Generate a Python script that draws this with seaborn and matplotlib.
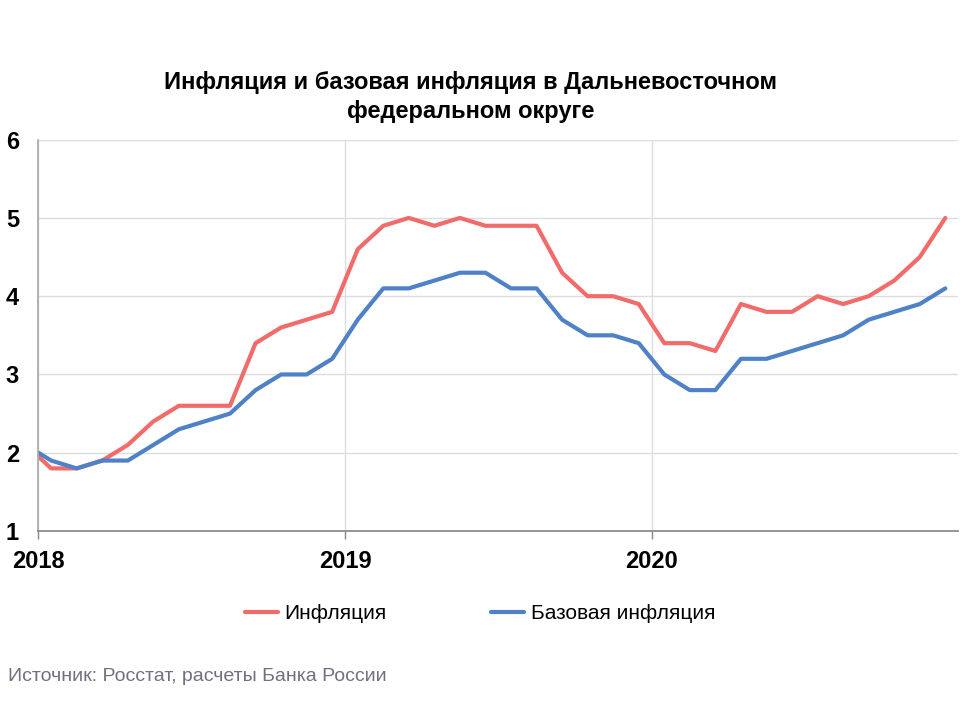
import pandas as pd
import matplotlib.pyplot as plt
import seaborn as sns

# month positions: 0 = start of 2018, points at mid-month
months = [0] + [k + 0.5 for k in range(36)]
inflation = [1.95, 1.8, 1.8, 1.9, 2.1, 2.4, 2.6, 2.6, 2.6, 3.4, 3.6, 3.7, 3.8,
             4.6, 4.9, 5.0, 4.9, 5.0, 4.9, 4.9, 4.9, 4.3, 4.0, 4.0, 3.9,
             3.4, 3.4, 3.3, 3.9, 3.8, 3.8, 4.0, 3.9, 4.0, 4.2, 4.5, 5.0]
core = [2.0, 1.9, 1.8, 1.9, 1.9, 2.1, 2.3, 2.4, 2.5, 2.8, 3.0, 3.0, 3.2,
        3.7, 4.1, 4.1, 4.2, 4.3, 4.3, 4.1, 4.1, 3.7, 3.5, 3.5, 3.4,
        3.0, 2.8, 2.8, 3.2, 3.2, 3.3, 3.4, 3.5, 3.7, 3.8, 3.9, 4.1]
year_ticks = [0, 12, 24]
year_labels = ['2018', '2019', '2020']

df = pd.concat([
    pd.DataFrame({'m': months, 'v': inflation, 's': 'Инфляция'}),
    pd.DataFrame({'m': months, 'v': core, 's': 'Базовая инфляция'}),
])

sns.set_theme(style="white")
plt.rcParams['font.family'] = ['Liberation Sans', 'DejaVu Sans']
plt.rcParams['text.color'] = 'black'
plt.rcParams['xtick.color'] = 'black'
plt.rcParams['ytick.color'] = 'black'

fig = plt.figure(figsize=(9.6, 7.2), dpi=100)
ax = fig.add_axes([0.04, 0.2625, 0.958, 0.5435])
sns.lineplot(data=df, x='m', y='v', hue='s', palette=['#f26b6b', '#4f81c7'],
             linewidth=3, ax=ax, legend=False)

ax.set_xlim(0, 36)
ax.set_ylim(1, 6)
ax.set_xticks(year_ticks)
ax.set_xticklabels(year_labels, fontsize=17, fontweight='bold')
ax.set_yticks(range(1, 7))
ax.set_yticklabels([str(i) for i in range(1, 7)], fontsize=17, fontweight='bold')
ax.tick_params(axis='x', length=6, width=1, direction='out', bottom=True,
               color='#888888', pad=8)
ax.tick_params(axis='y', length=0, pad=14)
ax.set_xlabel('')
ax.set_ylabel('')
ax.grid(True, color='#dddddd', linewidth=1)
for s in ['top', 'right']:
    ax.spines[s].set_visible(False)
ax.spines['left'].set_color('#aaaaaa')
ax.spines['bottom'].set_color('#888888')

fig.text(0.49, 0.865, 'Инфляция и базовая инфляция в Дальневосточном\nфедеральном округе',
         ha='center', va='center', fontsize=17, fontweight='bold', linespacing=1.3)

handles = [plt.Line2D([], [], color='#f26b6b', lw=3),
           plt.Line2D([], [], color='#4f81c7', lw=3)]
fig.legend(handles, ['Инфляция', 'Базовая инфляция'], loc='center',
           bbox_to_anchor=(0.5, 0.148), ncol=2, frameon=False, fontsize=15,
           handlelength=1.6, handletextpad=0.3, columnspacing=5)

fig.text(0.008, 0.06, 'Источник: Росстат, расчеты Банка России', fontsize=14,
         color='#707080', va='center')

fig.savefig('out.png', dpi=100)
